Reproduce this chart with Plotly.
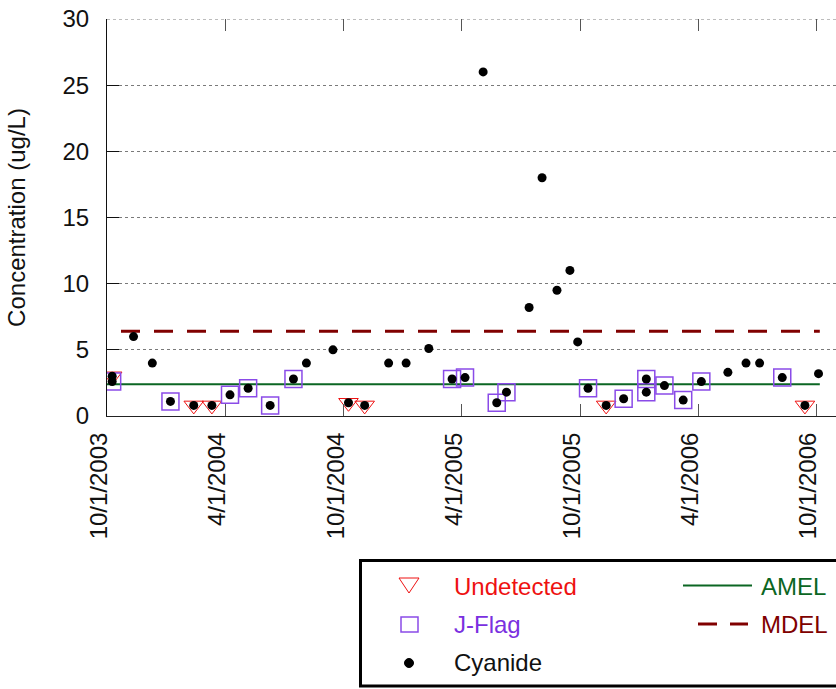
import plotly.graph_objects as go

# ---------------- data ----------------
cyanide_dates = [
    "2003-10-09", "2003-10-09", "2003-11-11", "2003-12-10", "2004-01-07", "2004-02-12",
    "2004-03-11", "2004-04-08", "2004-05-06", "2004-06-09", "2004-07-15", "2004-08-04",
    "2004-09-14", "2004-10-08", "2004-11-02", "2004-12-09", "2005-01-05", "2005-02-09",
    "2005-03-17", "2005-04-06", "2005-05-04", "2005-05-25", "2005-06-09", "2005-07-14",
    "2005-08-03", "2005-08-26", "2005-09-15", "2005-09-27", "2005-10-13", "2005-11-10",
    "2005-12-07", "2006-01-11", "2006-01-11", "2006-02-08", "2006-03-09", "2006-04-06",
    "2006-05-17", "2006-06-14", "2006-07-05", "2006-08-09", "2006-09-13", "2006-10-04",
]
cyanide_values = [
    3.0, 2.6, 6.0, 4.0, 1.1, 0.8,
    0.8, 1.6, 2.1, 0.8, 2.8, 4.0,
    5.0, 1.0, 0.8, 4.0, 4.0, 5.1,
    2.8, 2.9, 26.0, 1.0, 1.8, 8.2,
    18.0, 9.5, 11.0, 5.6, 2.1, 0.8,
    1.3, 2.8, 1.8, 2.3, 1.2, 2.6,
    3.3, 4.0, 4.0, 2.9, 0.8, 3.2,
]

undetected_dates = ["2003-10-09", "2004-02-12", "2004-03-11", "2004-10-08",
                    "2004-11-02", "2005-11-10", "2006-09-13"]
undetected_values = [3.0, 0.8, 0.8, 1.0, 0.8, 0.8, 0.8]

jflag_dates = ["2003-10-09", "2004-01-07", "2004-04-08", "2004-05-06", "2004-06-09",
               "2004-07-15", "2005-03-17", "2005-04-06", "2005-05-25", "2005-06-09",
               "2005-10-13", "2005-12-07", "2006-01-11", "2006-01-11", "2006-02-08",
               "2006-03-09", "2006-04-06", "2006-08-09"]
jflag_values = [2.6, 1.1, 1.6, 2.1, 0.8,
                2.8, 2.8, 2.9, 1.0, 1.8,
                2.1, 1.3, 2.8, 1.8, 2.3,
                1.2, 2.6, 2.9]

limit_dates = ["2003-10-01", "2006-10-06"]
amel_values = [2.4, 2.4]
mdel_values = [6.4, 6.4]

x_tick_dates = ["2003-10-01", "2004-04-01", "2004-10-01", "2005-04-01",
                "2005-10-01", "2006-04-01", "2006-10-01"]
x_tick_labels = ["10/1/2003", "4/1/2004", "10/1/2004", "4/1/2005",
                 "10/1/2005", "4/1/2006", "10/1/2006"]
y_ticks = [0, 5, 10, 15, 20, 25, 30]

x_range = ["2003-10-01", "2006-10-31"]
y_range = [0, 30.0001]

# ---------------- style ----------------
FONT = "Liberation Sans, Arial, sans-serif"
RED = "#ee1111"
PURPLE = "#7a30e0"
SQUARE = "#8a4be8"
GREEN = "#0b6623"
DARKRED = "#800000"
GRID = "#7a7a7a"

OFF = 0  # page body margin is removed by the post script
W, H = 836 - OFF, 689 - OFF
L, R, T, B = 107 - OFF, 0, 19 - OFF, 273
PW, PH = W - L - R, H - T - B


def px(xp):
    return (xp - OFF - L) / PW


def py(yp):
    return (H - B - (yp - OFF)) / PH


fig = go.Figure()

fig.add_trace(go.Scatter(x=limit_dates, y=amel_values, mode="lines",
                         line=dict(color=GREEN, width=2), name="AMEL",
                         showlegend=False, hoverinfo="skip"))
fig.add_trace(go.Scatter(x=limit_dates, y=mdel_values, mode="lines",
                         line=dict(color=DARKRED, width=3, dash="0px,14px,19px,0px"),
                         name="MDEL", showlegend=False, hoverinfo="skip"))
fig.add_trace(go.Scatter(x=undetected_dates, y=undetected_values, mode="markers",
                         marker=dict(symbol="triangle-down-open", size=17,
                                     color=RED, line=dict(color=RED, width=1)),
                         name="Undetected", showlegend=False))
fig.add_trace(go.Scatter(x=jflag_dates, y=jflag_values, mode="markers",
                         marker=dict(symbol="square-open", size=17,
                                     color=SQUARE, line=dict(color=SQUARE, width=1.5)),
                         name="J-Flag", showlegend=False))
fig.add_trace(go.Scatter(x=cyanide_dates, y=cyanide_values, mode="markers",
                         marker=dict(symbol="circle", size=9, color="black"),
                         name="Cyanide", showlegend=False))
# invisible trace to carry the top (mirrored) tick axis
fig.add_trace(go.Scatter(x=x_range, y=[None, None], xaxis="x2", mode="markers",
                         showlegend=False, hoverinfo="skip"))

fig.update_layout(
    width=W, height=H,
    margin=dict(l=L, r=R, t=T, b=B, autoexpand=False),
    paper_bgcolor="white", plot_bgcolor="white",
    font=dict(family=FONT, size=24, color="#111"),
    showlegend=False,
    xaxis=dict(
        type="date", range=x_range,
        tickmode="array", tickvals=x_tick_dates, ticktext=x_tick_labels,
        tickangle=-90, ticks="inside", ticklen=12, tickcolor="#555", tickwidth=1,
        showgrid=False, zeroline=False,
        showline=True, linecolor="#222", linewidth=1,
        tickfont=dict(size=24, family=FONT, color="#111"),
        ticklabelstandoff=6, ticklabelshift=-8, ticklabeloverflow="allow",
    ),
    xaxis2=dict(
        type="date", range=x_range, overlaying="x", side="top",
        tickmode="array", tickvals=x_tick_dates, ticks="inside", ticklen=12,
        tickcolor="#555", tickwidth=1, showticklabels=False,
        showgrid=False, zeroline=False, showline=False,
    ),
    yaxis=dict(
        range=y_range, tickmode="array", tickvals=y_ticks,
        ticks="inside", ticklen=12, tickcolor="#111", tickwidth=1,
        showgrid=True, gridcolor=GRID, gridwidth=1, griddash="3px,3px",
        zeroline=False, showline=True, linecolor="#111", linewidth=1,
        tickfont=dict(size=24, family=FONT, color="#111"),
        ticklabelstandoff=12, ticklabeloverflow="allow",
        title=dict(text="Concentration (ug/L)", font=dict(size=24, family=FONT, color="#111"),
                   standoff=30),
    ),
)

# ---------------- manual legend ----------------
shapes = []
# dotted top border (grid line at the top of the value range)
shapes.append(dict(type="line", xref="paper", yref="y", x0=0, x1=1,
                   y0=y_ticks[-1], y1=y_ticks[-1],
                   line=dict(color=GRID, width=1, dash="3px,3px"), layer="below"))
shapes.append(dict(type="rect", xref="paper", yref="paper",
                   x0=px(360.5), x1=px(845), y0=py(686), y1=py(560.5),
                   line=dict(color="black", width=3), fillcolor="white", layer="above"))
shapes.append(dict(type="path", xref="paper", yref="paper",
                   path=f"M {px(399)},{py(578)} L {px(419)},{py(578)} L {px(409)},{py(593)} Z",
                   line=dict(color=RED, width=1), layer="above"))
shapes.append(dict(type="rect", xref="paper", yref="paper",
                   x0=px(401), x1=px(418), y0=py(632), y1=py(617),
                   line=dict(color=SQUARE, width=1.5), layer="above"))
shapes.append(dict(type="circle", xref="paper", yref="paper",
                   x0=px(404.5), x1=px(413.5), y0=py(667.5), y1=py(658.5),
                   line=dict(color="black", width=1), fillcolor="black", layer="above"))
shapes.append(dict(type="line", xref="paper", yref="paper",
                   x0=px(683), x1=px(752), y0=py(585.5), y1=py(585.5),
                   line=dict(color=GREEN, width=2), layer="above"))
for a, b in [(698, 717), (730, 748)]:
    shapes.append(dict(type="line", xref="paper", yref="paper",
                       x0=px(a), x1=px(b), y0=py(624), y1=py(624),
                       line=dict(color=DARKRED, width=3), layer="above"))

annotations = []
for text, color, xp, yp in [("Undetected", RED, 452, 586),
                            ("J-Flag", PURPLE, 452, 624),
                            ("Cyanide", "#111", 452, 662),
                            ("AMEL", GREEN, 759, 586),
                            ("MDEL", DARKRED, 759, 624)]:
    annotations.append(dict(text=text, xref="paper", yref="paper", x=px(xp), y=py(yp),
                            xanchor="left", yanchor="middle", showarrow=False,
                            font=dict(size=24, family=FONT, color=color)))

fig.update_layout(shapes=shapes, annotations=annotations)

fig.write_html("out.html",
               config={"displayModeBar": False},
               post_script="document.body.style.margin='0';"
                           "document.body.style.overflow='hidden';")
